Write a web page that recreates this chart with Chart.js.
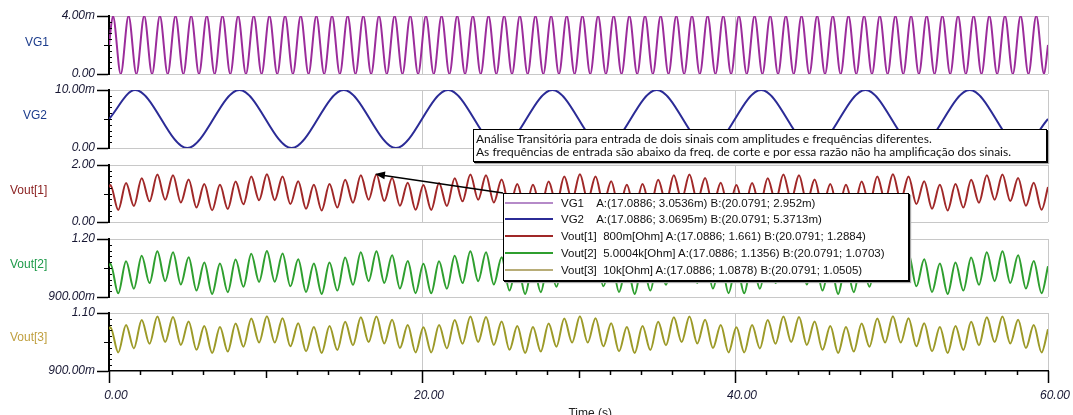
<!DOCTYPE html>
<html>
<head>
<meta charset="utf-8">
<script src="https://cdn.jsdelivr.net/npm/chart.js@4.4.1/dist/chart.umd.min.js"></script>
<style>
html,body{margin:0;padding:0;background:#fff;width:1073px;height:415px;overflow:hidden;}
#wrap{position:relative;width:1073px;height:415px;overflow:hidden;background:#fff;}
#wrap canvas{position:absolute;left:0;}
.plab{position:absolute;font:12px "Liberation Sans",Arial,sans-serif;line-height:14px;white-space:nowrap;}
#note{position:absolute;left:473px;top:129px;width:574px;height:33px;box-sizing:border-box;border:1px solid #000;
  box-shadow:1px 1px 0 #000,2px 2px 1px #aaa;background:#fff;font:12px Lato,"Open Sans",sans-serif;color:#111;
  padding:2px 0 0 2px;line-height:13px;white-space:nowrap;}
#legend{position:absolute;left:503px;top:193px;width:406px;height:88px;box-sizing:border-box;border:1px solid #000;
  box-shadow:1px 1px 0 #000,2px 2px 1px #aaa;background:#fff;}
#legend .row{position:absolute;left:0;height:16px;width:400px;}
#legend .sw{position:absolute;left:1px;top:7px;width:48px;height:2px;}
#legend .tx{position:absolute;left:57px;top:0;font:11.5px "Liberation Sans",Arial,sans-serif;line-height:16px;color:#111;white-space:pre;}
#arrow{position:absolute;left:0;top:0;}
</style>
</head>
<body>
<div id="wrap"></div>
<script>
// ---------- data ----------
const seriesNames = ['VG1', 'VG2', 'Vout[1]', 'Vout[2]', 'Vout[3]'];

// VG1: extrema times (s) and values (V)
const vg1Times = [0,0.25,0.75,1.25,1.75,2.25,2.75,3.25,3.75,4.25,4.75,5.25,5.75,6.25,6.75,7.25,7.75,8.25,8.75,9.25,9.75,
  10.25,10.75,11.25,11.75,12.25,12.75,13.25,13.75,14.25,14.75,15.25,15.75,16.25,16.75,17.25,17.75,18.25,18.75,19.25,19.75,
  20.25,20.75,21.25,21.75,22.25,22.75,23.25,23.75,24.25,24.75,25.25,25.75,26.25,26.75,27.25,27.75,28.25,28.75,29.25,29.75,
  30.25,30.75,31.25,31.75,32.25,32.75,33.25,33.75,34.25,34.75,35.25,35.75,36.25,36.75,37.25,37.75,38.25,38.75,39.25,39.75,
  40.25,40.75,41.25,41.75,42.25,42.75,43.25,43.75,44.25,44.75,45.25,45.75,46.25,46.75,47.25,47.75,48.25,48.75,49.25,49.75,
  50.25,50.75,51.25,51.75,52.25,52.75,53.25,53.75,54.25,54.75,55.25,55.75,56.25,56.75,57.25,57.75,58.25,58.75,59.25,59.75,60];
const vg1Values = [0.002,
  0.004,0,0.004,0,0.004,0,0.004,0,0.004,0,0.004,0,0.004,0,0.004,0,0.004,0,0.004,0,
  0.004,0,0.004,0,0.004,0,0.004,0,0.004,0,0.004,0,0.004,0,0.004,0,0.004,0,0.004,0,
  0.004,0,0.004,0,0.004,0,0.004,0,0.004,0,0.004,0,0.004,0,0.004,0,0.004,0,0.004,0,
  0.004,0,0.004,0,0.004,0,0.004,0,0.004,0,0.004,0,0.004,0,0.004,0,0.004,0,0.004,0,
  0.004,0,0.004,0,0.004,0,0.004,0,0.004,0,0.004,0,0.004,0,0.004,0,0.004,0,0.004,0,
  0.004,0,0.004,0,0.004,0,0.004,0,0.004,0,0.004,0,0.004,0,0.004,0,0.004,0,0.004,0,
  0.002];

// VG2: extrema times (s) and values (V)
const vg2Times = [0,1.667,5,8.333,11.667,15,18.333,21.667,25,28.333,31.667,35,38.333,41.667,45,48.333,51.667,55,58.333,60];
const vg2Values = [0.005,0.01,0,0.01,0,0.01,0,0.01,0,0.01,0,0.01,0,0.01,0,0.01,0,0.01,0,0.005];

// Vout: extrema times (s), shared by the three outputs
const voutTimes = [0,0.09,0.59,1.09,1.59,2.09,2.59,3.09,3.59,4.09,4.59,5.09,5.59,6.09,6.59,7.09,7.59,8.09,8.59,9.09,9.59,
  10.09,10.59,11.09,11.59,12.09,12.59,13.09,13.59,14.09,14.59,15.09,15.59,16.09,16.59,17.09,17.59,18.09,18.59,19.09,19.59,
  20.09,20.59,21.09,21.59,22.09,22.59,23.09,23.59,24.09,24.59,25.09,25.59,26.09,26.59,27.09,27.59,28.09,28.59,29.09,29.59,
  30.09,30.59,31.09,31.59,32.09,32.59,33.09,33.59,34.09,34.59,35.09,35.59,36.09,36.59,37.09,37.59,38.09,38.59,39.09,39.59,
  40.09,40.59,41.09,41.59,42.09,42.59,43.09,43.59,44.09,44.59,45.09,45.59,46.09,46.59,47.09,47.59,48.09,48.59,49.09,49.59,
  50.09,50.59,51.09,51.59,52.09,52.59,53.09,53.59,54.09,54.59,55.09,55.59,56.09,56.59,57.09,57.59,58.09,58.59,59.09,59.59,60];
const vout1Values = [1.225,
  1.295,0.424,1.370,0.561,1.539,0.726,1.664,0.783,1.641,0.685,1.490,0.513,1.334,0.408,1.303,0.457,1.422,0.620,1.593,0.762,
  1.675,0.766,1.600,0.629,1.431,0.464,1.306,0.407,1.329,0.505,1.480,0.677,1.636,0.782,1.667,0.733,1.548,0.570,1.377,0.428,
  1.295,0.424,1.370,0.561,1.539,0.726,1.664,0.783,1.641,0.685,1.490,0.513,1.334,0.408,1.303,0.457,1.422,0.620,1.593,0.762,
  1.675,0.766,1.600,0.629,1.431,0.464,1.306,0.407,1.329,0.505,1.480,0.677,1.636,0.782,1.667,0.733,1.548,0.570,1.377,0.428,
  1.295,0.424,1.370,0.561,1.539,0.726,1.664,0.783,1.641,0.685,1.490,0.513,1.334,0.408,1.303,0.457,1.422,0.620,1.593,0.762,
  1.675,0.766,1.600,0.629,1.431,0.464,1.306,0.407,1.329,0.505,1.480,0.677,1.636,0.782,1.667,0.733,1.548,0.570,1.377,0.428,
  1.225];
const vout2Values = [1.059,
  1.072,0.919,1.085,0.943,1.114,0.972,1.136,0.982,1.132,0.965,1.106,0.934,1.078,0.916,1.073,0.925,1.094,0.953,1.124,0.978,
  1.138,0.979,1.125,0.955,1.095,0.926,1.073,0.916,1.078,0.933,1.104,0.963,1.131,0.982,1.137,0.973,1.116,0.944,1.086,0.920,
  1.072,0.919,1.085,0.943,1.114,0.972,1.136,0.982,1.132,0.965,1.106,0.934,1.078,0.916,1.073,0.925,1.094,0.953,1.124,0.978,
  1.138,0.979,1.125,0.955,1.095,0.926,1.073,0.916,1.078,0.933,1.104,0.963,1.131,0.982,1.137,0.973,1.116,0.944,1.086,0.920,
  1.072,0.919,1.085,0.943,1.114,0.972,1.136,0.982,1.132,0.965,1.106,0.934,1.078,0.916,1.073,0.925,1.094,0.953,1.124,0.978,
  1.138,0.979,1.125,0.955,1.095,0.926,1.073,0.916,1.078,0.933,1.104,0.963,1.131,0.982,1.137,0.973,1.116,0.944,1.086,0.920,
  1.059];
const vout3Values = [1.044,
  1.051,0.964,1.059,0.978,1.076,0.994,1.088,1.000,1.086,0.990,1.071,0.973,1.055,0.962,1.052,0.967,1.064,0.984,1.081,0.998,
  1.089,0.998,1.082,0.985,1.065,0.968,1.052,0.962,1.055,0.972,1.070,0.989,1.085,1.000,1.088,0.995,1.077,0.979,1.059,0.964,
  1.051,0.964,1.059,0.978,1.076,0.994,1.088,1.000,1.086,0.990,1.071,0.973,1.055,0.962,1.052,0.967,1.064,0.984,1.081,0.998,
  1.089,0.998,1.082,0.985,1.065,0.968,1.052,0.962,1.055,0.972,1.070,0.989,1.085,1.000,1.088,0.995,1.077,0.979,1.059,0.964,
  1.051,0.964,1.059,0.978,1.076,0.994,1.088,1.000,1.086,0.990,1.071,0.973,1.055,0.962,1.052,0.967,1.064,0.984,1.081,0.998,
  1.089,0.998,1.082,0.985,1.065,0.968,1.052,0.962,1.055,0.972,1.070,0.989,1.085,1.000,1.088,0.995,1.077,0.979,1.059,0.964,
  1.044];

// axis ranges (min, max) per panel
const yMins = [0, 0, 0, 0.9, 0.9];
const yMaxs = [0.004, 0.01, 2, 1.2, 1.1];
const xMin = 0, xMax = 60, xStep = 20;

// legend / annotation text
const legendTexts = [
  'VG1    A:(17.0886; 3.0536m) B:(20.0791; 2.952m)',
  'VG2    A:(17.0886; 3.0695m) B:(20.0791; 5.3713m)',
  'Vout[1]  800m[Ohm] A:(17.0886; 1.661) B:(20.0791; 1.2884)',
  'Vout[2]  5.0004k[Ohm] A:(17.0886; 1.1356) B:(20.0791; 1.0703)',
  'Vout[3]  10k[Ohm] A:(17.0886; 1.0878) B:(20.0791; 1.0505)'
];
const noteLines = [
  'Análise Transitória para entrada de dois sinais com amplitudes e frequências diferentes.',
  'As frequências de entrada são abaixo da freq. de corte e por essa razão não ha amplificação dos sinais.'
];
const xTitle = 'Time (s)';

// ---------- styling ----------
const lineColors = ['#9b2c9b', '#2b2b96', '#a02828', '#2f9f2f', '#9c9a28'];
const legendColors = ['#b58ac8', '#2b2b96', '#a02828', '#2f9f2f', '#b8ad78'];
const labelColors = ['#1c3c8c', '#1c3c8c', '#8c2323', '#1e9a4a', '#c0a040'];
const gridColor = '#c8c8c8';
const tickTextColor = '#161632';
const tickFont = {family: '"Liberation Sans", Arial, sans-serif', size: 12, style: 'italic'};

const layoutPanels = [
  {top: 16, h: 58, labX: 25, labY: 41.5},
  {top: 90, h: 58, labX: 23, labY: 115},
  {top: 165, h: 57, labX: 10, labY: 190},
  {top: 239, h: 58, labX: 10, labY: 263.5},
  {top: 313, h: 58, labX: 10, labY: 337}
];
const timeArrays = [vg1Times, vg2Times, voutTimes, voutTimes, voutTimes];
const valueArrays = [vg1Values, vg2Values, vout1Values, vout2Values, vout3Values];

function fmt(v) {
  if (v === 0) return '0.00';
  if (Math.abs(v) < 1) return (v * 1000).toFixed(2) + 'm';
  return v.toFixed(2);
}

const minorTicks = {
  id: 'minorTicks',
  afterDraw(chart, args, opts) {
    const ctx = chart.ctx, ys = chart.scales.y, xs = chart.scales.x, a = chart.chartArea;
    ctx.save();
    ctx.strokeStyle = '#000';
    ctx.lineWidth = 1;
    for (let i = 1; i < 10; i++) {
      const py = Math.round(ys.getPixelForValue(ys.min + (ys.max - ys.min) * i / 10)) + 0.5;
      ctx.beginPath();
      ctx.moveTo(a.left - (i === 5 ? 5 : 0), py);
      ctx.lineTo(a.left + 3, py);
      ctx.stroke();
    }
    if (opts && opts.xTicks) {
      ctx.lineWidth = 1.5;
      for (let v = xMin; v <= xMax; v += 2) {
        const len = v % 20 === 0 ? 12 : (v % 10 === 0 ? 7 : 4);
        const px = Math.round(xs.getPixelForValue(v)) + 0.5;
        ctx.beginPath();
        ctx.moveTo(px, a.bottom);
        ctx.lineTo(px, a.bottom + len);
        ctx.stroke();
      }
    }
    ctx.restore();
  }
};

const wrap = document.getElementById('wrap');
const N = seriesNames.length;

for (let i = 0; i < N; i++) {
  const L = layoutPanels[i];
  const isBottom = i === N - 1;
  const padT = 10;
  const cTop = L.top - padT;
  const cH = isBottom ? (421 - cTop) : (L.h + 20);
  const cv = document.createElement('canvas');
  cv.width = 1073; cv.height = cH;
  cv.style.top = cTop + 'px';
  cv.style.width = '1073px'; cv.style.height = cH + 'px';
  wrap.appendChild(cv);
  const yMin = yMins[i], yMax = yMaxs[i];
  new Chart(cv, {
    type: 'line',
    data: {
      datasets: [{
        label: seriesNames[i],
        data: timeArrays[i].map((t, k) => ({x: t, y: valueArrays[i][k]})),
        borderColor: lineColors[i],
        borderWidth: 2,
        pointRadius: 0,
        cubicInterpolationMode: 'monotone',
        fill: false
      }]
    },
    options: {
      responsive: false,
      animation: false,
      events: [],
      layout: {padding: {top: padT, bottom: isBottom ? 0 : 10, left: 0, right: 25}},
      plugins: {legend: {display: false}, tooltip: {enabled: false}, minorTicks: {xTicks: isBottom}},
      scales: {
        x: {
          type: 'linear', min: xMin, max: xMax,
          ticks: {stepSize: xStep, display: isBottom, callback: v => v.toFixed(2), font: tickFont,
                  color: tickTextColor, padding: 17, labelOffset: 7, maxRotation: 0, autoSkip: false},
          grid: {color: c => (c.tick && c.tick.value === xMin) ? 'rgba(0,0,0,0)' : gridColor, lineWidth: 1, drawTicks: false},
          border: {display: isBottom, color: '#000', width: 1.5},
          title: {display: isBottom, text: '       ' + xTitle, color: '#222',
                  font: {family: '"Liberation Sans", Arial, sans-serif', size: 12}, padding: {top: 0, bottom: 0}},
          afterFit: s => {
            s.height = isBottom ? (cH - padT - L.h) : 0;
            s.paddingLeft = 0; s.paddingRight = 0;
          }
        },
        y: {
          min: yMin, max: yMax,
          afterBuildTicks: s => { s.ticks = [{value: yMin}, {value: yMax}]; },
          ticks: {callback: v => fmt(v), font: tickFont, color: tickTextColor, padding: 2},
          grid: {color: c => (isBottom && c.index === 0) ? 'rgba(0,0,0,0)' : gridColor,
                 tickColor: '#000', tickLength: 12, tickWidth: 1.5, lineWidth: 1},
          border: {color: '#000', width: 2},
          afterFit: s => { s.width = 109; }
        }
      }
    },
    plugins: [minorTicks]
  });
  const lab = document.createElement('div');
  lab.className = 'plab';
  lab.textContent = seriesNames[i];
  lab.style.left = L.labX + 'px';
  lab.style.top = (L.labY - 7) + 'px';
  lab.style.color = labelColors[i];
  wrap.appendChild(lab);
}

// arrow
const svgNS = 'http://www.w3.org/2000/svg';
const svg = document.createElementNS(svgNS, 'svg');
svg.setAttribute('id', 'arrow');
svg.setAttribute('width', '1073'); svg.setAttribute('height', '415');
const ln = document.createElementNS(svgNS, 'line');
ln.setAttribute('x1', '503'); ln.setAttribute('y1', '193');
ln.setAttribute('x2', '384'); ln.setAttribute('y2', '175.5');
ln.setAttribute('stroke', '#000'); ln.setAttribute('stroke-width', '1.5');
svg.appendChild(ln);
const hd = document.createElementNS(svgNS, 'polygon');
hd.setAttribute('points', '375,174 385.4,171.6 384.4,179.2');
hd.setAttribute('fill', '#000');
svg.appendChild(hd);
wrap.appendChild(svg);

// annotation box
const note = document.createElement('div');
note.id = 'note';
noteLines.forEach(t => { const d = document.createElement('div'); d.textContent = t; note.appendChild(d); });
wrap.appendChild(note);

// legend box
const leg = document.createElement('div');
leg.id = 'legend';
legendTexts.forEach((t, i) => {
  const r = document.createElement('div');
  r.className = 'row';
  r.style.top = (0.5 + i * 16.9) + 'px';
  const sw = document.createElement('div');
  sw.className = 'sw';
  sw.style.background = legendColors[i];
  const tx = document.createElement('div');
  tx.className = 'tx';
  tx.textContent = t;
  r.appendChild(sw); r.appendChild(tx);
  leg.appendChild(r);
});
wrap.appendChild(leg);
</script>
</body>
</html>
